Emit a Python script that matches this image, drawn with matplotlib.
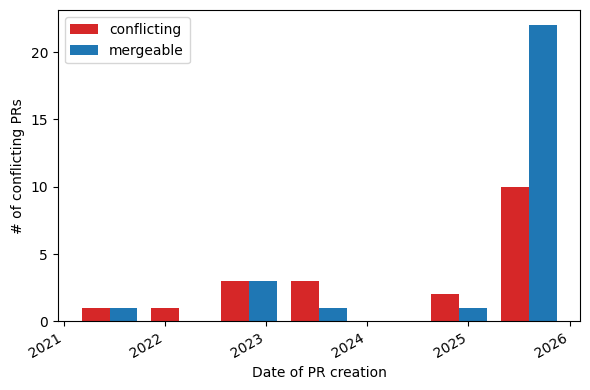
import numpy as np
import matplotlib
matplotlib.use("Agg")
import matplotlib.pyplot as plt
import matplotlib.dates as mdates
import datetime as dt

# histogram bins (7 bins between oldest and newest PR)
first_pr = dt.datetime(2021, 2, 9)
last_pr = dt.datetime(2025, 12, 10)
n_bins = 7

conflicting = [1, 1, 3, 3, 0, 2, 10]
mergeable = [1, 0, 3, 1, 0, 1, 22]

edges = np.linspace(mdates.date2num(first_pr), mdates.date2num(last_pr), n_bins + 1)
centers = (edges[:-1] + edges[1:]) / 2

fig, ax = plt.subplots(figsize=(5.9, 3.9), dpi=100)
ax.hist([centers, centers], bins=edges, weights=[conflicting, mergeable],
        color=["tab:red", "tab:blue"], label=["conflicting", "mergeable"])
ax.xaxis.set_major_locator(mdates.YearLocator())
ax.xaxis.set_major_formatter(mdates.DateFormatter("%Y"))
ax.set_xlabel("Date of PR creation")
ax.set_ylabel("# of conflicting PRs")
ax.legend(loc="upper left")
fig.autofmt_xdate()
fig.subplots_adjust(left=0.098, right=0.9835, top=0.9736, bottom=0.176)
fig.savefig("out.png")
